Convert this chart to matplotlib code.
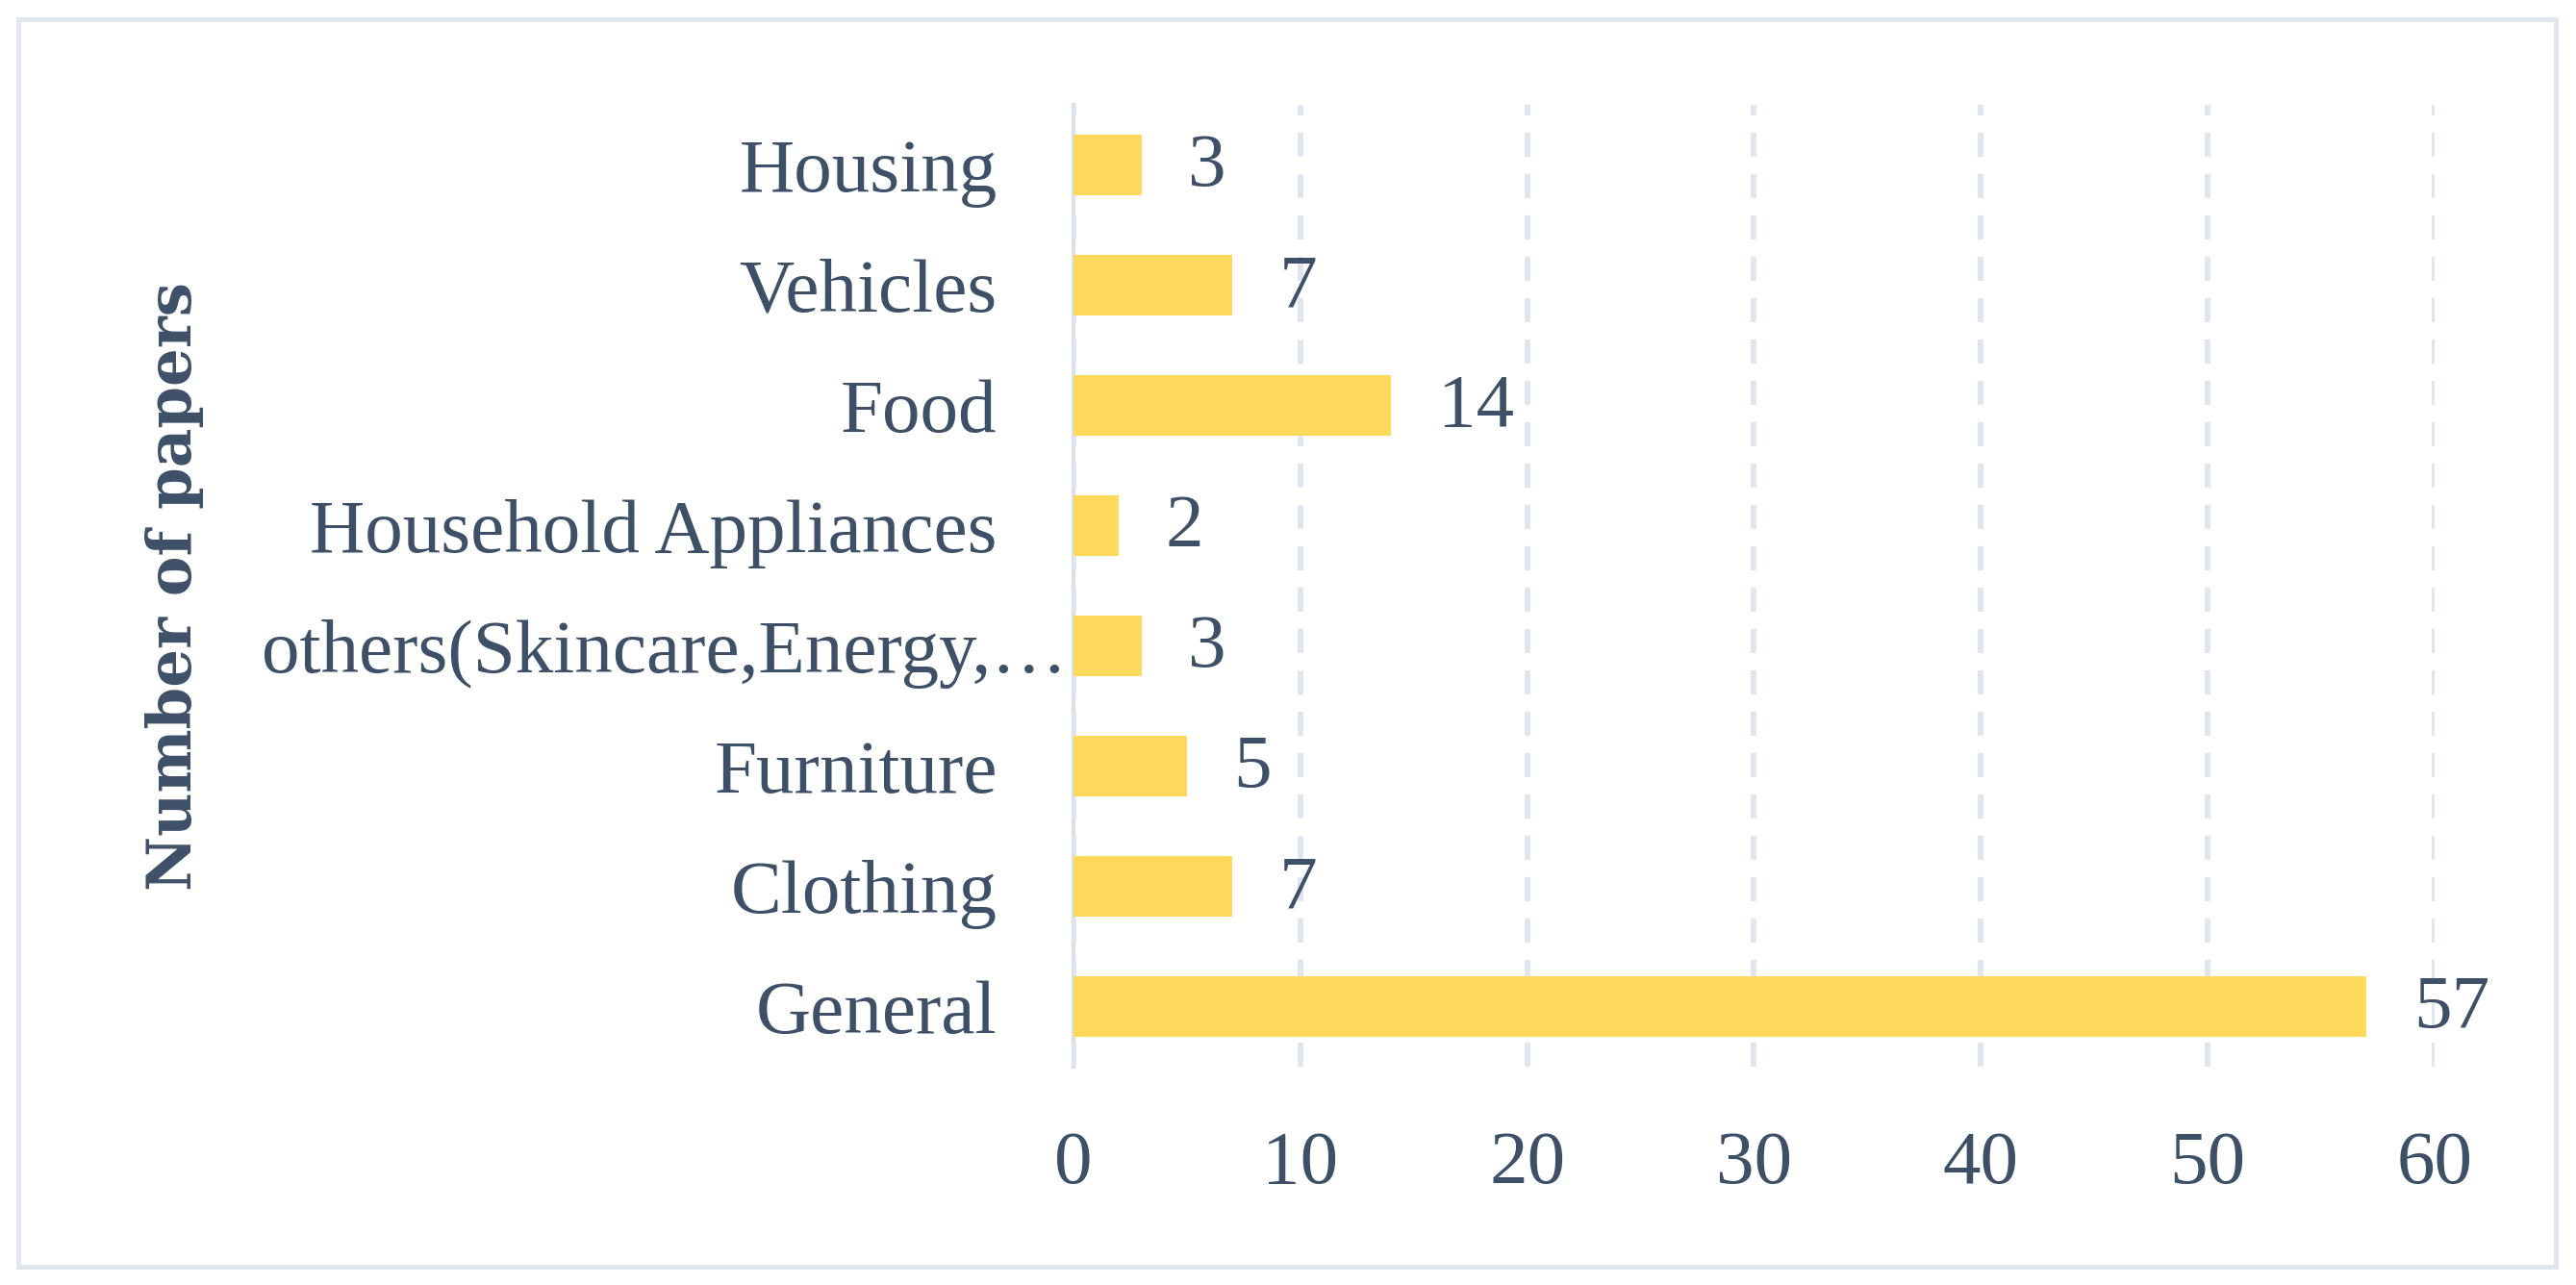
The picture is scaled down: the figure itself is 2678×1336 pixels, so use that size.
import matplotlib.pyplot as plt
import matplotlib.transforms as mtransforms
from matplotlib.patches import Rectangle

# data (bottom to top)
categories = ['General', 'Clothing', 'Furniture', 'others(Skincare,Energy,\u2026',
              'Household Appliances', 'Food', 'Vehicles', 'Housing']
papers = [57, 7, 5, 3, 2, 14, 7, 3]
xticks = [0, 10, 20, 30, 40, 50, 60]

text_color = '#3d5068'
bar_color = '#ffd95c'
grid_color = '#dfe6ed'

plt.rcParams['font.family'] = ['Liberation Serif', 'DejaVu Serif']

fig = plt.figure(figsize=(26.78, 13.36), dpi=100)
ax = fig.add_axes([0.4167, 0.1699, 0.9451 - 0.4167, 0.9184 - 0.1699])

y = list(range(len(categories)))
ax.barh(y, papers, height=0.5, color=bar_color, zorder=3)

for yi, v in zip(y, papers):
    ax.annotate(str(v), (v, yi), xytext=(35, -2), textcoords='offset points',
                ha='left', va='center', fontsize=57, color=text_color)

ax.set_xlim(0, 60)
ax.set_ylim(-0.5, len(categories) - 0.5)
ax.set_xticks(xticks)
ax.set_yticks(y)
ax.set_yticklabels(categories)
ax.tick_params(axis='both', length=0, labelsize=57, labelcolor=text_color)
ax.tick_params(axis='y', pad=57)
ax.tick_params(axis='x', pad=48)

ax.grid(axis='x', color=grid_color, linewidth=4.3, linestyle=(0, (4.2, 3.0)), zorder=0)
for s in ['top', 'right', 'bottom']:
    ax.spines[s].set_visible(False)
ax.spines['left'].set_color('#d9e1ea')
ax.spines['left'].set_linewidth(3)
ax.spines['left'].set_zorder(1)

# truncated label sits closer to the axis
lab = ax.get_yticklabels()[3]
lab.set_transform(lab.get_transform() + mtransforms.ScaledTranslation(73 / 100, 0, fig.dpi_scale_trans))

ax.set_ylabel('Number of papers', fontsize=45, fontweight='bold', color=text_color,
              family=['DejaVu Serif'], labelpad=0)
ax.yaxis.set_label_coords(-0.639, 0.5)

fig.patches.append(Rectangle((19 / 2678, 1 - 1317 / 1336), (2657 - 19) / 2678, (1317 - 20) / 1336,
                             transform=fig.transFigure, fill=False, edgecolor='#dfe6ee', linewidth=3.6))

plt.savefig('out.png', dpi=100)
